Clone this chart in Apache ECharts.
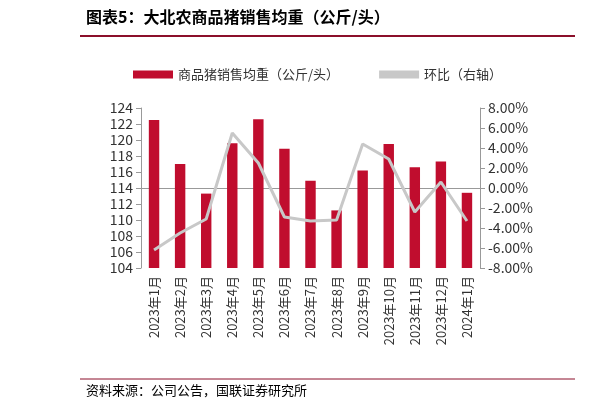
<!DOCTYPE html>
<html><head><meta charset="utf-8">
<script src="https://cdn.jsdelivr.net/npm/echarts@6/dist/echarts.min.js"></script>
<style>html,body{margin:0;padding:0;background:#fff}#c{width:614px;height:409px}</style>
</head><body><div id="c"></div>
<script>
const categories=['2023年1月','2023年2月','2023年3月','2023年4月','2023年5月','2023年6月','2023年7月','2023年8月','2023年9月','2023年10月','2023年11月','2023年12月','2024年1月'];
const weights=[122.5,117.0,113.3,119.6,122.6,118.9,114.9,111.2,116.2,119.5,116.6,117.3,113.4];
const momPct=[-6.2,-4.5,-3.1,5.5,2.5,-2.9,-3.3,-3.2,4.4,2.9,-2.4,0.6,-3.3];
const chart=echarts.init(document.getElementById('c'));
const f='"Noto Sans CJK SC"';
chart.setOption({
 animation:false,
 textStyle:{fontFamily:f},
 graphic:[
  {type:'text',left:86,top:9,style:{text:'图表5：大北农商品猪销售均重（公斤/头）',font:'bold 16px "Noto Sans CJK SC"',fill:'#000'}},
  {type:'line',shape:{x1:80,y1:36,x2:575,y2:36},style:{stroke:'#8b0f2a',lineWidth:2}},
  {type:'line',shape:{x1:80,y1:379,x2:575,y2:379},style:{stroke:'#8b0f2a',lineWidth:1}},
  {type:'text',left:86,top:384,style:{text:'资料来源：公司公告，国联证券研究所',font:'13px "Noto Sans CJK SC"',fill:'#000'}}
 ],
 legend:{top:63,left:128,itemGap:40,itemWidth:40,itemHeight:8,textStyle:{fontSize:13,color:'#333'},
  data:[{name:'商品猪销售均重（公斤/头）',icon:'rect'},{name:'环比（右轴）',icon:'rect'}]},
 grid:{left:141,right:134,top:108,bottom:141},
 xAxis:{type:'category',data:categories,axisTick:{show:false},axisLine:{lineStyle:{color:'#999'}},
  axisLabel:{rotate:90,color:'#333',fontSize:13,interval:0}},
 yAxis:[
  {type:'value',min:104,max:124,interval:2,splitLine:{show:false},axisLine:{show:true,lineStyle:{color:'#999'}},axisTick:{show:true,lineStyle:{color:'#999'}},axisLabel:{color:'#333',fontSize:14}},
  {type:'value',min:-8,max:8,interval:2,splitLine:{show:false},axisLine:{show:true,lineStyle:{color:'#999'}},axisTick:{show:true,lineStyle:{color:'#999'}},axisLabel:{color:'#333',fontSize:14,formatter:v=>v.toFixed(2)+'%'}}
 ],
 series:[
  {name:'商品猪销售均重（公斤/头）',type:'bar',data:weights,barWidth:'40%',itemStyle:{color:'#c00d2e'}},
  {name:'环比（右轴）',type:'line',yAxisIndex:1,data:momPct,symbol:'none',lineStyle:{color:'#c8c8c8',width:3},itemStyle:{color:'#c8c8c8'}}
 ]
});
</script></body></html>
